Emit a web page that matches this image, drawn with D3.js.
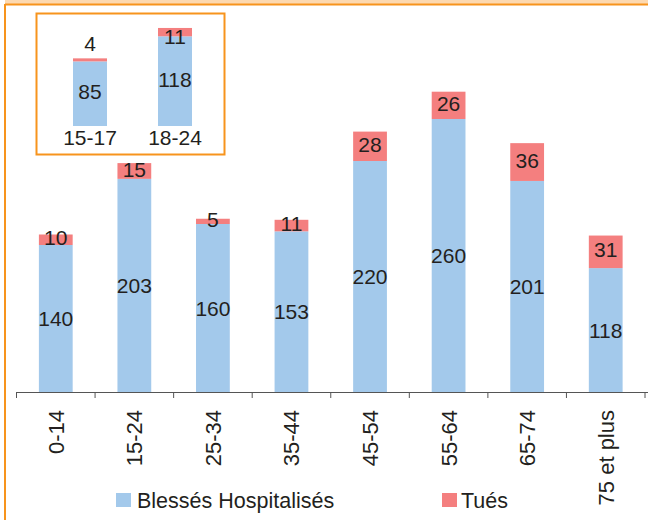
<!DOCTYPE html>
<html>
<head>
<meta charset="utf-8">
<script src="https://cdn.jsdelivr.net/npm/d3@7"></script>
<style>
  body { margin: 0; background: #fff; }
  svg { display: block; font-family: "Liberation Sans", Arial, sans-serif; }
</style>
</head>
<body>
<div id="chart"></div>
<script>
// main chart data
var ages = ["0-14", "15-24", "25-34", "35-44", "45-54", "55-64", "65-74", "75 et plus"];
var blesses = [140, 203, 160, 153, 220, 260, 201, 118];
var tues = [10, 15, 5, 11, 28, 26, 36, 31];

// inset: detail of 15-24
var insetAges = ["15-17", "18-24"];
var insetBlesses = [85, 118];
var insetTues = [4, 11];

var seriesNames = ["Blessés Hospitalisés", "Tués"];
var colors = ["#a3c9eb", "#f47f7f"];
var textColor = "#231f20";
var orange = "#f7941d";

var W = 648, H = 520;
var svg = d3.select("#chart").append("svg")
    .attr("width", W)
    .attr("height", H);

// frame bits (bottom of a title box at the top, left rule)
svg.append("rect").attr("x", 5).attr("y", 0).attr("width", W - 5).attr("height", 4)
    .attr("fill", "#fdd9b0");
svg.append("line").attr("x1", 5).attr("x2", W).attr("y1", 4.5).attr("y2", 4.5)
    .attr("stroke", orange).attr("stroke-width", 2);
svg.append("line").attr("x1", 5).attr("x2", 5).attr("y1", 4).attr("y2", H)
    .attr("stroke", orange).attr("stroke-width", 2);

function stack(cats, a, b) {
    return cats.map(function(c, i) {
        return { cat: c, v0: a[i], v1: b[i] };
    });
}

// ---- main chart ----
var x = d3.scaleBand()
    .domain(ages)
    .range([16.5, 645])
    .paddingInner(0.57)
    .paddingOuter(0.285);

var y = d3.scaleLinear()
    .domain([0, 300])
    .range([392, 77]);

var data = stack(ages, blesses, tues);

var g = svg.append("g");

g.selectAll(".blue").data(data).enter().append("rect")
    .attr("x", function(d) { return x(d.cat); })
    .attr("width", x.bandwidth())
    .attr("y", function(d) { return y(d.v0); })
    .attr("height", function(d) { return y(0) - y(d.v0); })
    .attr("fill", colors[0]);

g.selectAll(".red").data(data).enter().append("rect")
    .attr("x", function(d) { return x(d.cat); })
    .attr("width", x.bandwidth())
    .attr("y", function(d) { return y(d.v0 + d.v1); })
    .attr("height", function(d) { return y(d.v0) - y(d.v0 + d.v1); })
    .attr("fill", colors[1]);

g.selectAll(".lblB").data(data).enter().append("text")
    .attr("x", function(d) { return x(d.cat) + x.bandwidth() / 2; })
    .attr("y", function(d) { return (y(0) + y(d.v0)) / 2; })
    .attr("dy", "0.36em")
    .attr("text-anchor", "middle")
    .attr("font-size", 21)
    .attr("fill", textColor)
    .text(function(d) { return d.v0; });

g.selectAll(".lblR").data(data).enter().append("text")
    .attr("x", function(d) { return x(d.cat) + x.bandwidth() / 2; })
    .attr("y", function(d) { return (y(d.v0) + y(d.v0 + d.v1)) / 2 - 2; })
    .attr("dy", "0.36em")
    .attr("text-anchor", "middle")
    .attr("font-size", 21)
    .attr("fill", textColor)
    .text(function(d) { return d.v1; });

// x axis with ticks at band edges
var xAxis = d3.axisBottom(x).tickSize(0).tickFormat("");
var ax = svg.append("g")
    .attr("transform", "translate(0," + y(0) + ")")
    .call(xAxis);
ax.select(".domain").attr("stroke", "#555").attr("d", "M16.5,0.5H" + W);

var edges = ages.map(function(c) { return x(c) - x.step() * x.paddingInner() / 2; });
edges.push(x(ages[ages.length - 1]) + x.bandwidth() + x.step() * x.paddingInner() / 2);
ax.selectAll(".edge").data(edges).enter().append("line")
    .attr("x1", function(d) { return d; })
    .attr("x2", function(d) { return d; })
    .attr("y1", 0).attr("y2", 6)
    .attr("stroke", "#555");

svg.append("g").selectAll("text").data(ages).enter().append("text")
    .attr("transform", function(d) {
        return "translate(" + (x(d) + x.bandwidth() / 2) + ",410) rotate(-90)";
    })
    .attr("dy", "0.36em")
    .attr("text-anchor", "end")
    .attr("font-size", 22)
    .attr("fill", textColor)
    .text(function(d) { return d; });

// ---- inset ----
svg.append("rect")
    .attr("x", 36.5).attr("y", 13.5).attr("width", 188).attr("height", 141)
    .attr("fill", "#fff")
    .attr("stroke", orange).attr("stroke-width", 2);

var xi = d3.scaleBand()
    .domain(insetAges)
    .range([47.5, 217.5])
    .paddingInner(0.6)
    .paddingOuter(0.3);

var yi = d3.scaleLinear()
    .domain([0, 150])
    .range([126, 12]);

var idata = stack(insetAges, insetBlesses, insetTues);
var gi = svg.append("g");

gi.selectAll(".blue").data(idata).enter().append("rect")
    .attr("x", function(d) { return xi(d.cat); })
    .attr("width", xi.bandwidth())
    .attr("y", function(d) { return yi(d.v0); })
    .attr("height", function(d) { return yi(0) - yi(d.v0); })
    .attr("fill", colors[0]);

gi.selectAll(".red").data(idata).enter().append("rect")
    .attr("x", function(d) { return xi(d.cat); })
    .attr("width", xi.bandwidth())
    .attr("y", function(d) { return yi(d.v0 + d.v1); })
    .attr("height", function(d) { return yi(d.v0) - yi(d.v0 + d.v1); })
    .attr("fill", colors[1]);

gi.selectAll(".lblB").data(idata).enter().append("text")
    .attr("x", function(d) { return xi(d.cat) + xi.bandwidth() / 2; })
    .attr("y", function(d) { return (yi(0) + yi(d.v0)) / 2 - 2; })
    .attr("dy", "0.36em")
    .attr("text-anchor", "middle")
    .attr("font-size", 21)
    .attr("fill", textColor)
    .text(function(d) { return d.v0; });

gi.selectAll(".lblR").data(idata).enter().append("text")
    .attr("x", function(d) { return xi(d.cat) + xi.bandwidth() / 2; })
    .attr("y", function(d) {
        var top = yi(d.v0 + d.v1), h = yi(d.v0) - top;
        // thin segment: label sits above the bar
        return h < 5 ? top - 15 : top + h / 2 + 4;
    })
    .attr("dy", "0.36em")
    .attr("text-anchor", "middle")
    .attr("font-size", 21)
    .attr("fill", textColor)
    .text(function(d) { return d.v1; });

gi.selectAll(".cat").data(insetAges).enter().append("text")
    .attr("x", function(d) { return xi(d) + xi.bandwidth() / 2; })
    .attr("y", 137)
    .attr("dy", "0.36em")
    .attr("text-anchor", "middle")
    .attr("font-size", 21)
    .attr("fill", textColor)
    .text(function(d) { return d; });

// ---- legend ----
var legX = [116, 442];
var leg = svg.append("g").selectAll("g").data(seriesNames).enter().append("g")
    .attr("transform", function(d, i) { return "translate(" + legX[i] + ",493)"; });
leg.append("rect")
    .attr("width", 15).attr("height", 14)
    .attr("fill", function(d, i) { return colors[i]; });
leg.append("text")
    .attr("x", function(d, i) { return i === 0 ? 21 : 19; })
    .attr("y", 7)
    .attr("dy", "0.36em")
    .attr("font-size", 21.5)
    .attr("fill", textColor)
    .text(function(d) { return d; });
</script>
</body>
</html>
